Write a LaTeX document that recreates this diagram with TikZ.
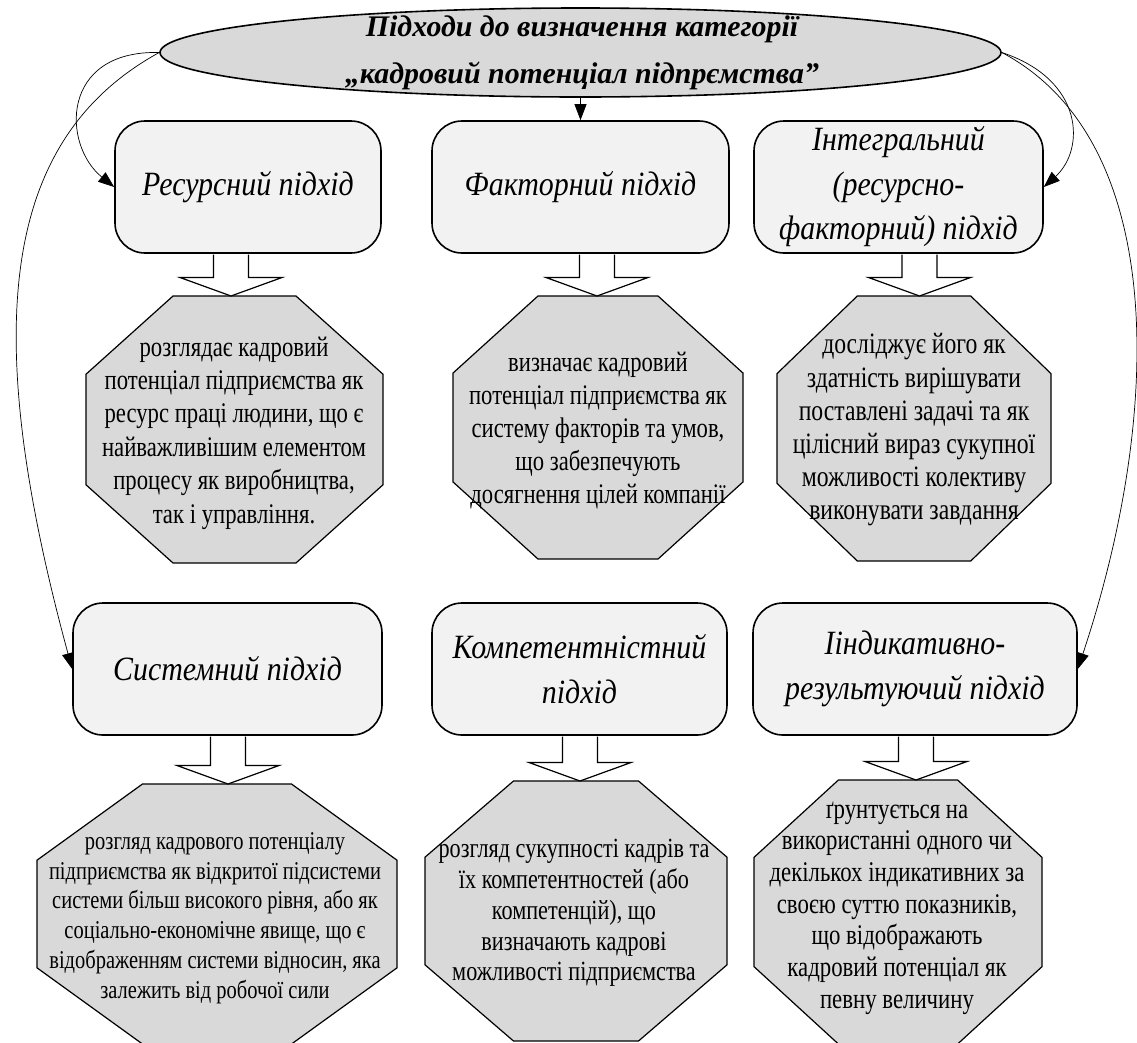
\documentclass[tikz,border=0pt]{standalone}
\usepackage{fontspec}
\setmainfont{Liberation Serif}
% narrow cuts of the same face for the boxes and the descriptions
\newfontfamily\boxface{Liberation Serif}[FakeStretch=0.88]
\newfontfamily\descface{Liberation Serif}[FakeStretch=0.8]
\usetikzlibrary{calc,shapes.geometric,arrows.meta}

% octagon drawn inside the rectangle of a frame node
\newcommand\octfill[1]{%
  \path[octo]
    ($(#1.north west)!0.293!(#1.north east)$) --
    ($(#1.north west)!0.707!(#1.north east)$) --
    ($(#1.north east)!0.293!(#1.south east)$) --
    ($(#1.north east)!0.707!(#1.south east)$) --
    ($(#1.south west)!0.707!(#1.south east)$) --
    ($(#1.south west)!0.293!(#1.south east)$) --
    ($(#1.north west)!0.707!(#1.south west)$) --
    ($(#1.north west)!0.293!(#1.south west)$) -- cycle;}

% hollow block arrow: #1 column coordinate, #2 source node, #3 target node
\newcommand\blockarrow[3]{%
  \draw[hollow]
    ($(#1 |- #2.south)+(-17.5,0.9)$) --
    ($(#1 |- #3.north)+(-17.5,-18.5)$) --
    ($(#1 |- #3.north)+(-51,-18.5)$) --
    (#1 |- #3.north) --
    ($(#1 |- #3.north)+(51,-18.5)$) --
    ($(#1 |- #3.north)+(17.5,-18.5)$) --
    ($(#1 |- #2.south)+(17.5,0.9)$);}

\begin{document}
\begin{tikzpicture}[x=1pt,y=-1pt,
  approach/.style={draw, line width=1.6pt, fill=black!5, rounded corners=30pt,
    inner sep=0pt, align=center, font=\boxface\itshape\fontsize{34}{44.5}\selectfont},
  frame/.style={inner sep=0pt, outer sep=0pt},
  octo/.style={draw, line width=1.2pt, fill=black!15},
  desc/.style={align=center, inner sep=0pt},
  link/.style={line width=0.7pt, -{Triangle[length=16pt,width=12pt]}},
  hollow/.style={line width=1.2pt, fill=white},
]
\useasboundingbox (0,0) rectangle (1137,1042);
\fill[white] (0,0) rectangle (1137,1042);

% title ellipse
\node[ellipse, draw, line width=1.6pt, fill=black!15, inner sep=0pt,
      minimum width=841pt, minimum height=89pt] (hub) at (580.5,52.5) {};
\node[align=center, inner sep=0pt, font=\bfseries\itshape\fontsize{29.9}{47}\selectfont]
  (hubtext) at (582,53) {Підходи до визначення категорії\\„кадровий потенціал підпрємства”};

% approaches
\node[approach, minimum width=266pt, minimum height=132pt] (b1) at (248,187) {Ресурсний підхід};
\node[approach, minimum width=297pt, minimum height=132pt] (b2) at (580.5,187) {Факторний підхід};
\node[approach, minimum width=289pt, minimum height=132pt] (b3) at (898.5,187) {Інтегральний\\(ресурсно-\\факторний) підхід};
\node[approach, minimum width=309pt, minimum height=132pt] (b4) at (227.5,669) {Системний підхід};
\node[approach, minimum width=295pt, minimum height=132pt] (b5) at (579.5,669) {Компетентністний\\підхід};
\node[approach, minimum width=324pt, minimum height=132pt] (b6) at (915,669) {Ііндикативно-\\результуючий підхід};

% description frames
\node[frame, minimum width=297pt, minimum height=267pt] (o1) at (234.5,429.5) {};
\node[frame, minimum width=290pt, minimum height=263pt] (o2) at (598,427.5) {};
\node[frame, minimum width=274pt, minimum height=265pt] (o3) at (914,428.5) {};
\node[frame, minimum width=360pt, minimum height=260pt] (o4) at (217,914) {};
\node[frame, minimum width=302pt, minimum height=260pt] (o5) at (576,911) {};
\node[frame, minimum width=288pt, minimum height=264pt] (o6) at (898,912) {};
\foreach \o in {o1,o2,o3,o4,o5,o6} {\octfill{\o}}

% arrow columns
\coordinate (c1) at (231,0);
\coordinate (c2) at (597,0);
\coordinate (c3) at (919.5,0);
\coordinate (c4) at (228,0);
\coordinate (c5) at (580,0);
\coordinate (c6) at (916,0);
\blockarrow{c1}{b1}{o1}
\blockarrow{c2}{b2}{o2}
\blockarrow{c3}{b3}{o3}
\blockarrow{c4}{b4}{o4}
\blockarrow{c5}{b5}{o5}
\blockarrow{c6}{b6}{o6}

% descriptions
\node[desc, font=\descface\fontsize{28.4}{33.4}\selectfont] (d1) at (234,433) {розглядає кадровий\\потенціал підприємства як\\ресурс праці людини, що є\\найважливішим елементом\\процесу як виробництва,\\так і управління.};
\node[desc, font=\descface\fontsize{28.3}{33}\selectfont] (d2) at (598,431) {визначає кадровий\\потенціал підприємства як\\систему факторів та умов,\\що забезпечують\\досягнення цілей компанії};
\node[desc, font=\descface\fontsize{29.6}{33.2}\selectfont] (d3) at (914,430) {досліджує його як\\здатність вирішувати\\поставлені задачі та як\\цілісний вираз сукупної\\можливості колективу\\виконувати завдання};
\node[desc, font=\descface\fontsize{25.6}{29.8}\selectfont] (d4) at (215,918) {розгляд кадрового потенціалу\\підприємства як відкритої підсистеми\\системи більш високого рівня, або як\\соціально-економічне явище, що є\\відображенням системи відносин, яка\\залежить від робочої сили};
\node[desc, font=\descface\fontsize{27.75}{30.8}\selectfont] (d5) at (574,913) {розгляд сукупності кадрів та\\їх компетентностей (або\\компетенцій), що\\визначають кадрові\\можливості підприємства};
\node[desc, font=\descface\fontsize{28.5}{31.7}\selectfont] (d6) at (897,908) {ґрунтується на\\використанні одного чи\\декількох індикативних за\\своєю суттю показників,\\що відображають\\кадровий потенціал як\\певну величину};

% links from the title
\draw[link] (hub.south) -- (b2.north);
\draw[link] (hub.west) .. controls (60,50) and (62,145) .. (b1.west);
\draw[link] (hub.west) .. controls (0,140) and (-20,330) .. (b4.west);
\draw[link] (hub.east) .. controls (1085,80) and (1085,150) .. (b3.east);
\draw[link] (hub.east) .. controls (1167.5,140) and (1163.4,412) .. (b6.east);
\end{tikzpicture}
\end{document}
